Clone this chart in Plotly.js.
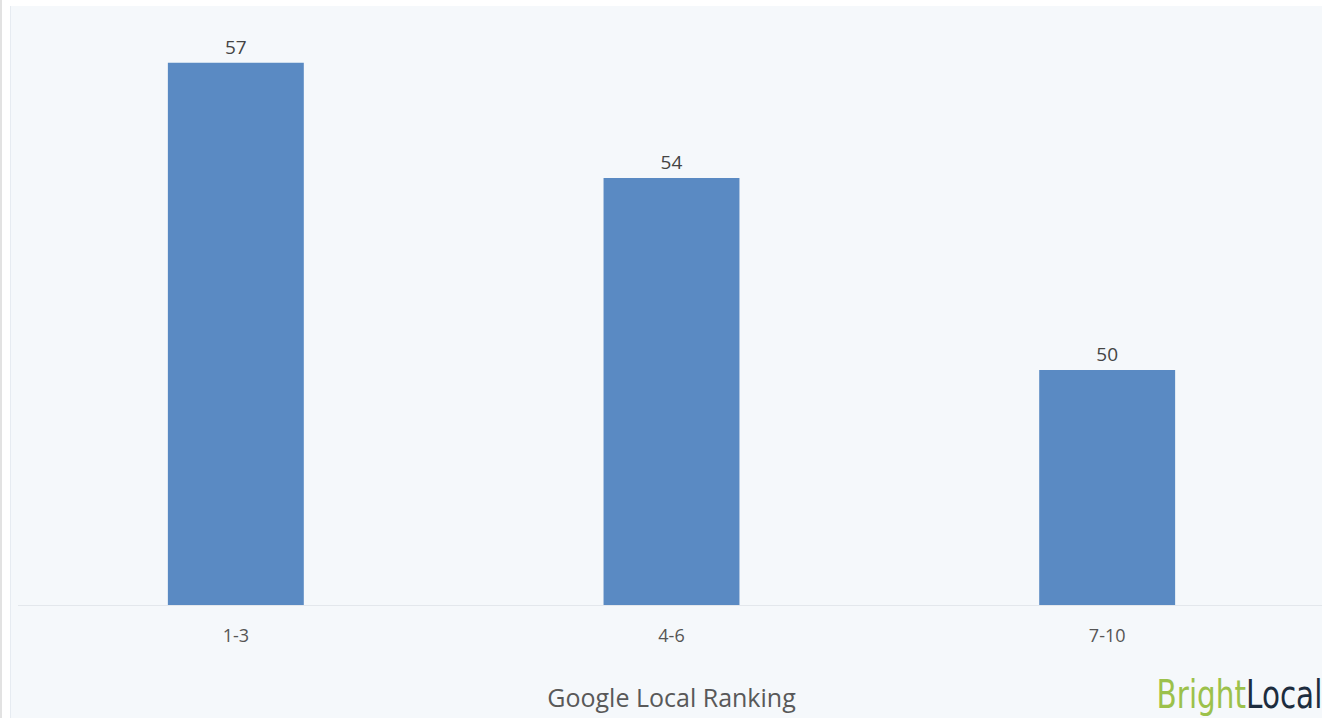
<!DOCTYPE html>
<html>
<head>
<meta charset="utf-8">
<script src="https://cdn.plot.ly/plotly-3.0.1.min.js"></script>
<style>
  html, body { margin: 0; padding: 0; background: #ffffff; width: 1322px; height: 718px; overflow: hidden; }
  #strip { position: absolute; left: 0; top: 0; width: 2px; height: 718px; background: #e2e2e2; }
  #chart { position: absolute; left: 10px; top: 6px; width: 1320px; height: 712px; border-left: 1px solid #e6ebf1; }
</style>
</head>
<body>
<div id="strip"></div>
<div id="chart"></div>
<script>
// Categories (Google Local ranking groups)
const categories = ["1-3", "4-6", "7-10"];
// Series values (labels displayed rounded: 57, 54, 50)
const values = [56.64, 54.0, 49.6];
const xTitle = "Google Local Ranking";

const trace = {
  type: "bar",
  x: categories,
  y: values,
  marker: { color: "#5a8ac3" },
  texttemplate: "%{y:.0f}",
  textposition: "outside",
  cliponaxis: false,
  textfont: { family: "Open Sans, sans-serif", size: 19, color: "#444444" },
  hoverinfo: "x+y"
};

const layout = {
  width: 1320,
  height: 712,
  margin: { l: 7, r: 6, t: 0, b: 113 },
  paper_bgcolor: "#f5f8fb",
  plot_bgcolor: "#f5f8fb",
  bargap: 0.688,
  showlegend: false,
  font: { family: "Open Sans, sans-serif", color: "#555555" },
  xaxis: {
    showline: true,
    linecolor: "#e3e7ec",
    linewidth: 1,
    showgrid: false,
    zeroline: false,
    ticks: "",
    ticklabelstandoff: 14,
    tickfont: { family: "Open Sans, sans-serif", size: 18, color: "#555555" },
    title: { text: xTitle, font: { family: "Open Sans, sans-serif", size: 25, color: "#595959" }, standoff: 43 },
    automargin: false,
    fixedrange: true
  },
  yaxis: {
    range: [44.215, 57.94],
    visible: false,
    showgrid: false,
    zeroline: false,
    fixedrange: true
  },
  annotations: [{
    xref: "paper", yref: "paper",
    x: 0.9995, y: -0.1486,
    xanchor: "right", yanchor: "middle",
    showarrow: false,
    text: '<span style="color:#9cc14b">Bright</span><span style="color:#1d2d3f">Local</span>',
    font: { family: "Liberation Sans Narrow, DejaVu Sans Condensed, sans-serif", size: 39 }
  }]
};

Plotly.newPlot("chart", [trace], layout, { displayModeBar: false }).then(function (gd) {
  // condense the logo wordmark horizontally, keeping its right edge fixed
  const t = gd.querySelector(".annotation-text-g text");
  if (t) {
    const bb = t.getBBox();
    const right = bb.x + bb.width;
    const k = 0.84;
    t.setAttribute("transform", "translate(" + (right * (1 - k)) + ",0) scale(" + k + ",1)");
  }
});
</script>
</body>
</html>
